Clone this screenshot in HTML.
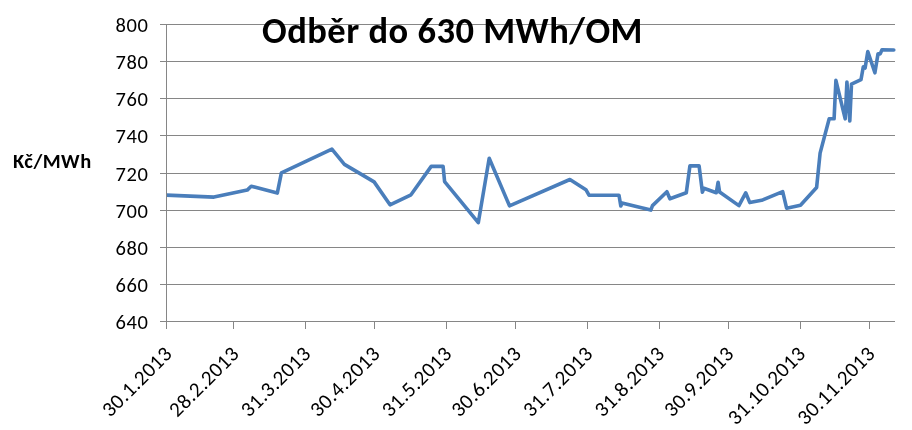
<!DOCTYPE html>
<html><head><meta charset="utf-8"><style>
html,body{margin:0;padding:0;background:#fff;}
svg{display:block;}
text{font-family:Carlito, 'Liberation Sans', sans-serif;fill:#000;}
</style></head><body>
<svg width="912" height="430" viewBox="0 0 912 430">
<rect width="912" height="430" fill="#fff"/>
<g stroke="#868686" stroke-width="1" shape-rendering="crispEdges">
<line x1="160" y1="24.5" x2="895" y2="24.5"/>
<line x1="160" y1="61.5" x2="895" y2="61.5"/>
<line x1="160" y1="98.5" x2="895" y2="98.5"/>
<line x1="160" y1="135.5" x2="895" y2="135.5"/>
<line x1="160" y1="173.5" x2="895" y2="173.5"/>
<line x1="160" y1="210.5" x2="895" y2="210.5"/>
<line x1="160" y1="247.5" x2="895" y2="247.5"/>
<line x1="160" y1="284.5" x2="895" y2="284.5"/>
<line x1="160" y1="321.5" x2="895" y2="321.5"/>
</g>
<clipPath id="pc"><rect x="166.5" y="0" width="745.5" height="430"/></clipPath>
<path d="M166.5,195.1 L214,197.1 L247.2,190.1 L251.2,186.2 L277.3,193.1 L281.4,172.9 L331.9,149.2 L344.4,164.4 L374.1,181.9 L390,204.8 L411,194.8 L431.2,166.4 L443.1,166.4 L444.6,181.6 L478.3,222.7 L489.2,158.3 L509.5,205.8 L569.9,179.5 L585.9,189.7 L589,195.2 L619,195.2 L620.8,206 L622,203 L650.8,210.1 L652.5,205.6 L666.9,191.7 L669.9,198.8 L686.3,192.8 L689.9,165.9 L699.1,165.9 L702.4,192.2 L703.9,188.3 L716.3,192.7 L718.1,182.2 L719.6,192 L738.9,205.6 L745.7,192.8 L749.8,202.6 L761.6,200.3 L782.7,191.7 L786.6,208.2 L800.5,205.2 L816.6,187.5 L820.1,153.1 L829.2,118.8 L834.1,118.8 L835.9,80.3 L845.2,118.8 L846.9,82 L849.8,121 L851.5,84.1 L861,79.7 L863.3,66.7 L865.1,68 L867.8,51.6 L874.9,72.8 L878,53.9 L880.2,53.9 L882,49.8 L893.8,50" fill="none" stroke="#4A7EBB" stroke-width="3.6" stroke-linejoin="round" stroke-linecap="round" clip-path="url(#pc)"/>
<g stroke="#868686" stroke-width="1" shape-rendering="crispEdges">
<line x1="166.5" y1="24.0" x2="166.5" y2="328"/>
<line x1="166.5" y1="321" x2="166.5" y2="329"/>
<line x1="233.5" y1="321" x2="233.5" y2="329"/>
<line x1="305.5" y1="321" x2="305.5" y2="329"/>
<line x1="374.5" y1="321" x2="374.5" y2="329"/>
<line x1="446.5" y1="321" x2="446.5" y2="329"/>
<line x1="515.5" y1="321" x2="515.5" y2="329"/>
<line x1="587.5" y1="321" x2="587.5" y2="329"/>
<line x1="659.5" y1="321" x2="659.5" y2="329"/>
<line x1="728.5" y1="321" x2="728.5" y2="329"/>
<line x1="800.5" y1="321" x2="800.5" y2="329"/>
<line x1="869.5" y1="321" x2="869.5" y2="329"/>
<line x1="160" y1="321.5" x2="895" y2="321.5"/>
</g>
<g font-size="20.5" letter-spacing="0.65">
<text x="148.6" y="31.5" text-anchor="end" textLength="33.125" lengthAdjust="spacingAndGlyphs">800</text>
<text x="148.6" y="68.5" text-anchor="end" textLength="33.125" lengthAdjust="spacingAndGlyphs">780</text>
<text x="148.6" y="105.5" text-anchor="end" textLength="33.125" lengthAdjust="spacingAndGlyphs">760</text>
<text x="148.6" y="142.5" text-anchor="end" textLength="33.125" lengthAdjust="spacingAndGlyphs">740</text>
<text x="148.6" y="180.5" text-anchor="end" textLength="33.125" lengthAdjust="spacingAndGlyphs">720</text>
<text x="148.6" y="217.5" text-anchor="end" textLength="33.125" lengthAdjust="spacingAndGlyphs">700</text>
<text x="148.6" y="254.5" text-anchor="end" textLength="33.125" lengthAdjust="spacingAndGlyphs">680</text>
<text x="148.6" y="291.5" text-anchor="end" textLength="33.125" lengthAdjust="spacingAndGlyphs">660</text>
<text x="148.6" y="328.5" text-anchor="end" textLength="33.125" lengthAdjust="spacingAndGlyphs">640</text>
</g>
<g font-size="21" letter-spacing="0.45">
<text transform="translate(173.3,355) rotate(-45)" text-anchor="end" textLength="89.171875" lengthAdjust="spacingAndGlyphs">30.1.2013</text>
<text transform="translate(240.4,355) rotate(-45)" text-anchor="end" textLength="89.171875" lengthAdjust="spacingAndGlyphs">28.2.2013</text>
<text transform="translate(312.1,355) rotate(-45)" text-anchor="end" textLength="89.171875" lengthAdjust="spacingAndGlyphs">31.3.2013</text>
<text transform="translate(381.4,355) rotate(-45)" text-anchor="end" textLength="89.171875" lengthAdjust="spacingAndGlyphs">30.4.2013</text>
<text transform="translate(453.1,355) rotate(-45)" text-anchor="end" textLength="89.171875" lengthAdjust="spacingAndGlyphs">31.5.2013</text>
<text transform="translate(522.5,355) rotate(-45)" text-anchor="end" textLength="89.171875" lengthAdjust="spacingAndGlyphs">30.6.2013</text>
<text transform="translate(594.2,355) rotate(-45)" text-anchor="end" textLength="89.171875" lengthAdjust="spacingAndGlyphs">31.7.2013</text>
<text transform="translate(665.9,355) rotate(-45)" text-anchor="end" textLength="89.171875" lengthAdjust="spacingAndGlyphs">31.8.2013</text>
<text transform="translate(735.2,355) rotate(-45)" text-anchor="end" textLength="89.171875" lengthAdjust="spacingAndGlyphs">30.9.2013</text>
<text transform="translate(806.9,355) rotate(-45)" text-anchor="end" textLength="100.265625" lengthAdjust="spacingAndGlyphs">31.10.2013</text>
<text transform="translate(876.3,355) rotate(-45)" text-anchor="end" textLength="100.265625" lengthAdjust="spacingAndGlyphs">30.11.2013</text>
</g>
<text x="13" y="168" font-size="20.5" font-weight="bold" letter-spacing="0.5" textLength="78.6875" lengthAdjust="spacingAndGlyphs">Kč/MWh</text>
<text x="262" y="42.5" font-size="36.5" font-weight="bold" letter-spacing="0.5" textLength="381.015625" lengthAdjust="spacingAndGlyphs">Odběr do 630 MWh/OM</text>
</svg>
</body></html>
